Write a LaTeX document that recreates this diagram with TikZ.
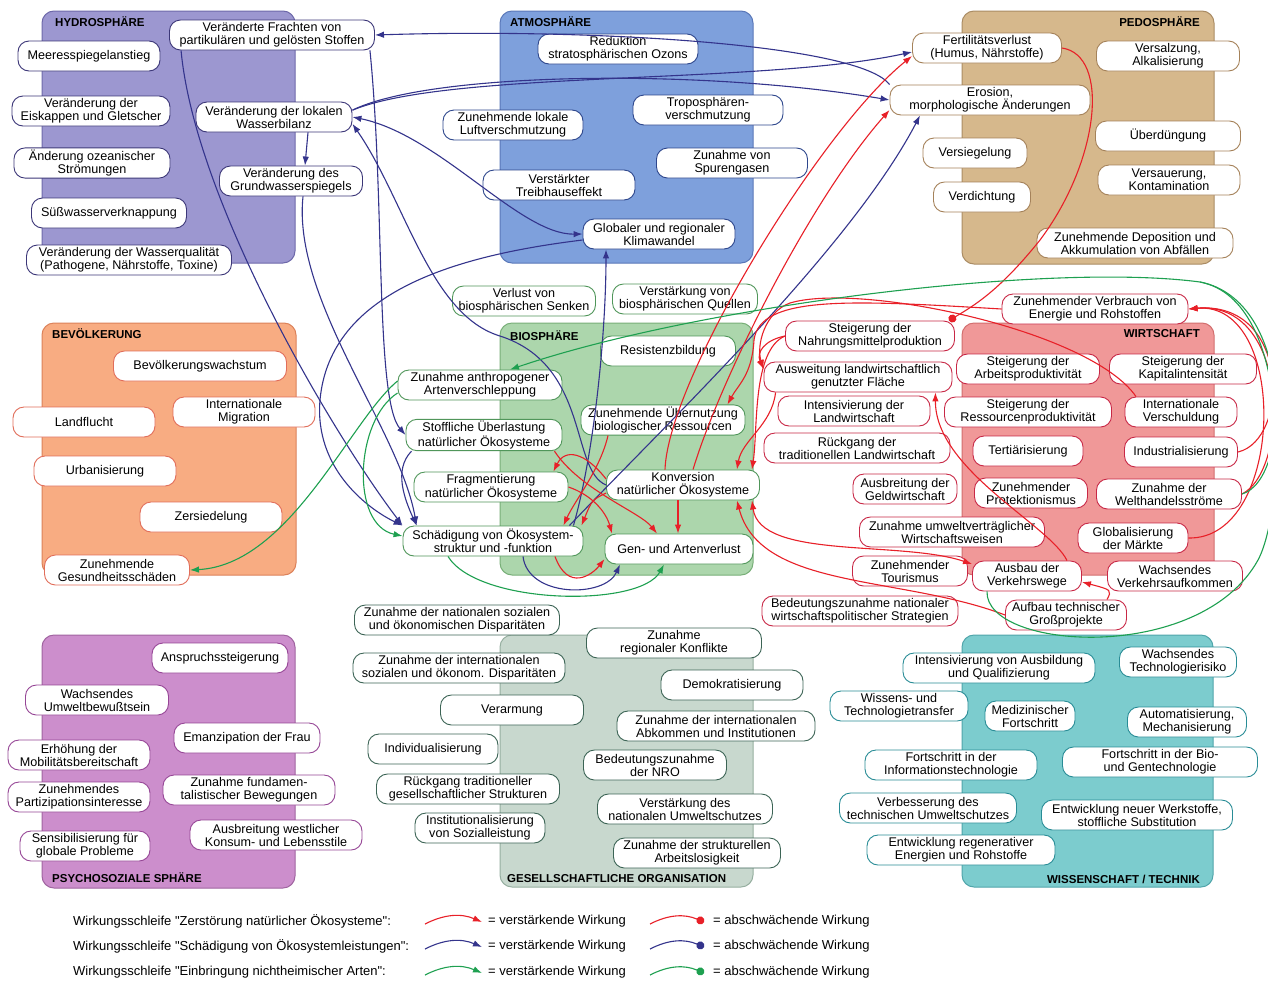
\documentclass[tikz,border=0pt]{standalone}
\usepackage{fontspec}
\setmainfont{Liberation Sans}
\usetikzlibrary{arrows.meta}
\definecolor{lnblue}{RGB}{52,52,140}
\definecolor{lnred}{RGB}{232,32,40}
\definecolor{lngreen}{RGB}{30,160,80}
\definecolor{hyF}{RGB}{156,151,208}\definecolor{hyD}{RGB}{110,105,170}\definecolor{hyB}{RGB}{60,55,120}
\definecolor{atF}{RGB}{126,160,220}\definecolor{atD}{RGB}{90,120,185}\definecolor{atB}{RGB}{45,70,140}
\definecolor{peF}{RGB}{214,184,140}\definecolor{peD}{RGB}{170,140,100}\definecolor{peB}{RGB}{165,130,90}
\definecolor{beF}{RGB}{248,172,130}\definecolor{beD}{RGB}{220,130,90}\definecolor{beB}{RGB}{225,110,90}
\definecolor{biF}{RGB}{172,214,172}\definecolor{biD}{RGB}{120,175,120}\definecolor{biB}{RGB}{80,150,90}
\definecolor{wiF}{RGB}{240,152,152}\definecolor{wiD}{RGB}{210,110,110}\definecolor{wiB}{RGB}{200,40,70}
\definecolor{psF}{RGB}{204,142,204}\definecolor{psD}{RGB}{160,100,160}\definecolor{psB}{RGB}{150,70,150}
\definecolor{geF}{RGB}{200,216,206}\definecolor{geD}{RGB}{150,175,160}\definecolor{geB}{RGB}{60,100,85}
\definecolor{wsF}{RGB}{124,204,206}\definecolor{wsD}{RGB}{80,165,170}\definecolor{wsB}{RGB}{40,140,150}

\begin{document}
\begin{tikzpicture}[x=1pt,y=-1pt,>={Latex[length=9pt,width=6.5pt]},
  nd/.style={draw, fill=white, rounded corners=11pt, line width=0.9pt, minimum height=30pt,
    inner xsep=3pt, inner ysep=2pt, align=center, font=\fontsize{12.6}{13}\selectfont},
  hynode/.style={nd, draw=hyB}, atnode/.style={nd, draw=atB}, penode/.style={nd, draw=peB},
  benode/.style={nd, draw=beB}, binode/.style={nd, draw=biB}, winode/.style={nd, draw=wiB},
  psnode/.style={nd, draw=psB}, genode/.style={nd, draw=geB}, wsnode/.style={nd, draw=wsB},
  sphere/.style={rounded corners=12pt, line width=1pt},
  sphtitle/.style={inner sep=0pt, font=\fontsize{11.5}{12}\selectfont\bfseries},
  lg/.style={inner sep=0pt, anchor=west, font=\fontsize{13}{14}\selectfont},
  bline/.style={draw=lnblue, line width=1.1pt, ->},
  rline/.style={draw=lnred, line width=1.1pt, ->},
  gline/.style={draw=lngreen, line width=1.1pt, ->}]
\useasboundingbox (0,0) rectangle (1268,983);
\fill[white] (0,0) rectangle (1268,983);

% spheres
\draw[sphere, fill=hyF, draw=hyD] (42,11) rectangle (295,263);
\draw[sphere, fill=atF, draw=atD] (500,11) rectangle (753,263);
\draw[sphere, fill=peF, draw=peD] (962,11) rectangle (1214,264);
\draw[sphere, fill=beF, draw=beD] (42,323) rectangle (296,575);
\draw[sphere, fill=biF, draw=biD] (500,323) rectangle (753,575);
\draw[sphere, fill=wiF, draw=wiD] (962,323) rectangle (1214,575);
\draw[sphere, fill=psF, draw=psD] (42,635) rectangle (295,888);
\draw[sphere, fill=geF, draw=geD] (500,635) rectangle (753,887);
\draw[sphere, fill=wsF, draw=wsD] (962,635) rectangle (1213,887);
\node[sphtitle, anchor=west] (tHy) at (55,22) {HYDROSPHÄRE};
\node[sphtitle, anchor=west] (tAt) at (510,22) {ATMOSPHÄRE};
\node[sphtitle, anchor=east] (tPe) at (1200,22) {PEDOSPHÄRE};
\node[sphtitle, anchor=west] (tBe) at (52,334) {BEVÖLKERUNG};
\node[sphtitle, anchor=west] (tBi) at (510,336) {BIOSPHÄRE};
\node[sphtitle, anchor=east] (tWi) at (1200,334) {WIRTSCHAFT};
\node[sphtitle, anchor=west] (tPs) at (52,878) {PSYCHOSOZIALE SPHÄRE};
\node[sphtitle, anchor=west] (tGe) at (507,879) {GESELLSCHAFTLICHE ORGANISATION};
\node[sphtitle, anchor=east] (tWs) at (1200,879) {WISSENSCHAFT / TECHNIK};

% hydrosphaere
\node[hynode, minimum width=142] (h1) at (89,56) {Meeresspiegelanstieg};
\node[hynode, minimum width=158] (h2) at (91,111) {Veränderung der\\Eiskappen und Gletscher};
\node[hynode, minimum width=156] (h3) at (92,163) {Änderung ozeanischer\\Strömungen};
\node[hynode, minimum width=155] (h4) at (109,213) {Süßwasserverknappung};
\node[hynode, minimum width=205] (h5) at (129,260) {Veränderung der Wasserqualität\\(Pathogene, Nährstoffe, Toxine)};
\node[hynode, minimum width=205] (h6) at (272,35) {Veränderte Frachten von\\partikulären und gelösten Stoffen};
\node[hynode, minimum width=156] (h7) at (274,117) {Veränderung der lokalen\\Wasserbilanz};
\node[hynode, minimum width=143] (h8) at (291,181) {Veränderung des\\Grundwasserspiegels};

% atmosphaere
\node[atnode, minimum width=160] (a1) at (618,49) {Reduktion\\stratosphärischen Ozons};
\node[atnode, minimum width=150] (a2) at (708,110) {Troposphären-\\verschmutzung};
\node[atnode, minimum width=140] (a3) at (513,125) {Zunehmende lokale\\Luftverschmutzung};
\node[atnode, minimum width=151] (a4) at (732,163) {Zunahme von\\Spurengasen};
\node[atnode, minimum width=152] (a5) at (559,185) {Verstärkter\\Treibhauseffekt};
\node[atnode, minimum width=152] (a6) at (659,234) {Globaler und regionaler\\Klimawandel};

% pedosphaere
\node[penode, minimum width=149] (p1) at (987,48) {Fertilitätsverlust\\(Humus, Nährstoffe)};
\node[penode, minimum width=200] (p2) at (990,100) {Erosion,\\morphologische Änderungen};
\node[penode, minimum width=143] (p3) at (1168,56) {Versalzung,\\Alkalisierung};
\node[penode, minimum width=145] (p4) at (1168,136) {Überdüngung};
\node[penode, minimum width=104] (p5) at (975,153) {Versiegelung};
\node[penode, minimum width=97] (p6) at (982,197) {Verdichtung};
\node[penode, minimum width=142] (p7) at (1169,180) {Versauerung,\\Kontamination};
\node[penode, minimum width=196] (p8) at (1135,243) {Zunehmende Deposition und\\Akkumulation von Abfällen};

% bevoelkerung
\node[benode, minimum width=173] (b1) at (200,366) {Bevölkerungswachstum};
\node[benode, minimum width=142] (b2) at (244,412) {Internationale\\Migration};
\node[benode, minimum width=142] (b3) at (84,422) {Landflucht};
\node[benode, minimum width=142] (b4) at (105,471) {Urbanisierung};
\node[benode, minimum width=142] (b5) at (211,517) {Zersiedelung};
\node[benode, minimum width=145] (b6) at (117,570) {Zunehmende\\Gesundheitsschäden};

% biosphaere
\node[binode, minimum width=143] (s1) at (524,301) {Verlust von\\biosphärischen Senken};
\node[binode, minimum width=145] (s2) at (685,299) {Verstärkung von\\biosphärischen Quellen};
\node[binode, minimum width=135] (s3) at (668,351) {Resistenzbildung};
\node[binode, minimum width=164] (s4) at (480,385) {Zunahme anthropogener\\Artenverschleppung};
\node[binode, minimum width=164] (s5) at (663,420) {Zunehmende Übernutzung\\biologischer Ressourcen};
\node[binode, minimum width=156] (s6) at (484,435) {Stoffliche Überlastung\\natürlicher Ökosysteme};
\node[binode, minimum width=154] (s7) at (491,487) {Fragmentierung\\natürlicher Ökosysteme};
\node[binode, minimum width=153] (s8) at (683,485) {Konversion\\natürlicher Ökosysteme};
\node[binode, minimum width=180] (s9) at (493,541) {Schädigung von Ökosystem-\\struktur und -funktion};
\node[binode, minimum width=148] (s10) at (679,549) {Gen- und Artenverlust};

% wirtschaft
\node[winode, minimum width=186] (w1) at (1095,309) {Zunehmender Verbrauch von\\Energie und Rohstoffen};
\node[winode, minimum width=169] (w2) at (870,336) {Steigerung der\\Nahrungsmittelproduktion};
\node[winode, minimum width=188] (w3) at (858,377) {Ausweitung landwirtschaftlich\\genutzter Fläche};
\node[winode, minimum width=152] (w4) at (854,411) {Intensivierung der\\Landwirtschaft};
\node[winode, minimum width=186] (w5) at (857,448) {Rückgang der\\traditionellen Landwirtschaft};
\node[winode, minimum width=104] (w6) at (905,489) {Ausbreitung der\\Geldwirtschaft};
\node[winode, minimum width=185] (w7) at (952,532) {Zunahme umweltverträglicher\\Wirtschaftsweisen};
\node[winode, minimum width=115] (w8) at (910,571) {Zunehmender\\Tourismus};
\node[winode, minimum width=143] (w9) at (1028,369) {Steigerung der\\Arbeitsproduktivität};
\node[winode, minimum width=147] (w10) at (1183,369) {Steigerung der\\Kapitalintensität};
\node[winode, minimum width=167] (w11) at (1028,412) {Steigerung der\\Ressourcenproduktivität};
\node[winode, minimum width=112] (w12) at (1181,412) {Internationale\\Verschuldung};
\node[winode, minimum width=110] (w13) at (1028,451) {Tertiärisierung};
\node[winode, minimum width=113] (w14) at (1181,452) {Industrialisierung};
\node[winode, minimum width=113] (w15) at (1031,493) {Zunehmender\\Protektionismus};
\node[winode, minimum width=145] (w16) at (1169,494) {Zunahme der\\Welthandelsströme};
\node[winode, minimum width=110] (w17) at (1133,538) {Globalisierung\\der Märkte};
\node[winode, minimum width=109] (w18) at (1027,576) {Ausbau der\\Verkehrswege};
\node[winode, minimum width=135] (w19) at (1175,576) {Wachsendes\\Verkehrsaufkommen};
\node[winode, minimum width=196] (w20) at (860,611) {Bedeutungszunahme nationaler\\wirtschaftspolitischer Strategien};
\node[winode, minimum width=121] (w21) at (1066,615) {Aufbau technischer\\Großprojekte};

% gesellschaftliche organisation
\node[genode, minimum width=205] (g1) at (457,620) {Zunahme der nationalen sozialen\\und ökonomischen Disparitäten};
\node[genode, minimum width=175] (g2) at (674,643) {Zunahme\\regionaler Konflikte};
\node[genode, minimum width=212] (g3) at (459,668) {Zunahme der internationalen\\sozialen und ökonom. Disparitäten};
\node[genode, minimum width=142] (g4) at (732,685) {Demokratisierung};
\node[genode, minimum width=143] (g5) at (512,710) {Verarmung};
\node[genode, minimum width=198] (g6) at (716,726) {Zunahme der internationalen\\Abkommen und Institutionen};
\node[genode, minimum width=130] (g7) at (433,749) {Individualisierung};
\node[genode, minimum width=143] (g8) at (655,765) {Bedeutungszunahme\\der NRO};
\node[genode, minimum width=183] (g9) at (468,789) {Rückgang traditioneller\\gesellschaftlicher Strukturen};
\node[genode, minimum width=130] (g10) at (480,828) {Institutionalisierung\\von Sozialleistung};
\node[genode, minimum width=175] (g11) at (685,809) {Verstärkung des\\nationalen Umweltschutzes};
\node[genode, minimum width=167] (g12) at (697,853) {Zunahme der strukturellen\\Arbeitslosigkeit};

% psychosoziale sphaere
\node[psnode, minimum width=136] (y1) at (220,658) {Anspruchssteigerung};
\node[psnode, minimum width=143] (y2) at (97,700) {Wachsendes\\Umweltbewußtsein};
\node[psnode, minimum width=146] (y3) at (247,738) {Emanzipation der Frau};
\node[psnode, minimum width=142] (y4) at (79,755) {Erhöhung der\\Mobilitätsbereitschaft};
\node[psnode, minimum width=142] (y5) at (79,797) {Zunehmendes\\Partizipationsinteresse};
\node[psnode, minimum width=172] (y6) at (249,790) {Zunahme fundamen-\\talistischer Bewegungen};
\node[psnode, minimum width=172] (y7) at (276,835) {Ausbreitung westlicher\\Konsum- und Lebensstile};
\node[psnode, minimum width=130] (y8) at (85,846) {Sensibilisierung für\\globale Probleme};

% wissenschaft / technik
\node[wsnode, minimum width=192] (t1) at (999,668) {Intensivierung von Ausbildung\\und Qualifizierung};
\node[wsnode, minimum width=117] (t2) at (1178,662) {Wachsendes\\Technologierisiko};
\node[wsnode, minimum width=138] (t3) at (899,706) {Wissens- und\\Technologietransfer};
\node[wsnode, minimum width=90] (t4) at (1030,716) {Medizinischer\\Fortschritt};
\node[wsnode, minimum width=119] (t5) at (1187,722) {Automatisierung,\\Mechanisierung};
\node[wsnode, minimum width=172] (t6) at (951,765) {Fortschritt in der\\Informationstechnologie};
\node[wsnode, minimum width=195] (t7) at (1160,762) {Fortschritt in der Bio-\\und Gentechnologie};
\node[wsnode, minimum width=177] (t8) at (928,808) {Verbesserung des\\technischen Umweltschutzes};
\node[wsnode, minimum width=191] (t9) at (1137,815) {Entwicklung neuer Werkstoffe,\\stoffliche Substitution};
\node[wsnode, minimum width=188] (t10) at (961,850) {Entwicklung regenerativer\\Energien und Rohstoffe};

% blue loop
\draw[bline] (p2.north west) .. controls (860,45) and (600,28) .. (h6.east);
\draw[bline] (h7.5) .. controls (430,72) and (700,68) .. (p2.west);
\draw[bline] (h7.5) .. controls (450,70) and (760,85) .. ([yshift=-4]p1.west);
\draw[bline, <->] (h7.east) .. controls (440,135) and (520,235) .. (a6.west);
\draw[bline] (s8.west) .. controls (570,470) and (590,365) .. (500,336) .. controls (430,315) and (405,200) .. (h7.-5);
\draw[bline] ([xshift=34]h7.south) -- ([xshift=14]h8.north);
\draw[bline] ([xshift=-5]h6.south east) .. controls (385,200) and (375,400) .. (s6.west);
\draw[bline] ([xshift=12]h6.south west) .. controls (195,200) and (330,430) .. (s9.north west);
\draw[bline] ([xshift=12]h8.south) .. controls (292,300) and (400,430) .. ([xshift=14]s9.north west);
\draw[bline] ([yshift=-6]a6.west) .. controls (460,255) and (330,290) .. (320,400) .. controls (314,470) and (370,510) .. (s9.north west);
\draw[bline] ([xshift=6]s6.south west) .. controls (393,470) and (405,500) .. ([xshift=14]s9.north west);
\draw[bline] ([xshift=-10]s9.north east) .. controls (595,450) and (606,330) .. ([xshift=-53]a6.south);
\draw[bline] ([xshift=-14]s9.north east) .. controls (660,430) and (850,250) .. ([xshift=-70]p2.south);
\draw[bline] ([xshift=30]s9.south) .. controls (528,598) and (605,598) .. ([xshift=-59]s10.south);

% red loop
\draw[rline] ([xshift=-18]s8.north) .. controls (668,380) and (820,130) .. ([yshift=-8]p1.west);
\draw[rline] ([xshift=10]s8.north) .. controls (720,380) and (810,200) .. ([yshift=-10]p2.west);
\draw[rline] (w1.west) .. controls (850,300) and (760,295) .. (754,340) .. controls (752,375) and (738,385) .. ([xshift=-18]s5.north east);
\draw[rline] ([xshift=-45]w12.north) .. controls (1090,330) and (860,282) .. (790,303) .. controls (765,312) and (756,345) .. ([yshift=8]w3.west);
\draw[rline] (w2.west) .. controls (765,340) and (756,352) .. ([yshift=8]w3.west);
\draw[rline] (w2.west) .. controls (752,350) and (758,430) .. ([xshift=-8]s8.north east);
\draw[rline] ([xshift=12]w3.south west) .. controls (772,425) and (742,440) .. ([xshift=-23]s8.north east);
\draw[rline, -{Circle[length=8pt]}] (p1.east) .. controls (1110,55) and (1100,160) .. (1040,240) .. controls (1000,290) and (975,305) .. ([xshift=-6]w2.north east);
\draw[rline] ([xshift=40]w18.north) .. controls (1050,525) and (935,470) .. ([xshift=-17]w3.south east);
\draw[rline] ([xshift=-20]w21.north east) .. controls (1112,590) .. ([yshift=-6]w18.east);
\draw[rline, <->] ([xshift=-8]s8.south east) .. controls (760,560) and (900,540) .. ([yshift=12]w18.west);
\draw[rline] (w21.west) .. controls (900,575) and (760,590) .. ([xshift=-23]s8.south east);
\draw[rline] (w14.east) .. controls (1290,440) and (1290,300) .. (w1.east);
\draw[rline] (w16.east) .. controls (1290,470) and (1290,300) .. (w1.east);
\draw[rline] (w17.east) .. controls (1285,540) and (1290,300) .. (w1.east);
\draw[rline] ([xshift=-55]s5.south) .. controls (600,470) and (575,500) .. ([xshift=-20]s9.north east);
\draw[rline] ([yshift=6]s8.west) .. controls (585,452) and (565,448) .. ([xshift=-15]s7.north east);
\draw[rline] (s7.east) .. controls (592,495) and (606,512) .. ([xshift=-67]s10.north);
\draw[rline] ([xshift=-8]s6.south east) .. controls (580,490) and (640,512) .. ([xshift=-22]s10.north);
\draw[rline] ([xshift=-5]s8.south) -- ([xshift=-1]s10.north);
\draw[rline] ([yshift=-8]s8.west) .. controls (592,500) .. ([xshift=-2]s9.north east);
\draw[rline] ([xshift=62]s9.south) .. controls (568,592) and (592,575) .. ([yshift=-10]s10.west);

% green loop
\coordinate (gTop) at (1200,282);
\draw[gline] (w16.east) .. controls (1292,480) and (1294,300) .. (gTop) .. controls (1050,262) and (700,305) .. ([xshift=30]s4.north);
\draw[gline, -] ([xshift=-40]w18.south) .. controls (985,650) and (1200,665) .. (1258,560) .. controls (1285,510) and (1294,300) .. (gTop);
\draw[gline] ([yshift=4]s4.west) .. controls (350,420) and (290,565) .. (b6.east);
\draw[gline] ([yshift=-8]s4.west) .. controls (355,420) and (350,525) .. ([yshift=5]s9.west);
\draw[gline] ([xshift=-45]s9.south) .. controls (478,605) and (640,608) .. ([xshift=-15]s10.south);

% legend
\node[lg] (l1) at (73,921) {Wirkungsschleife \textquotedbl Zerstörung natürlicher Ökosysteme\textquotedbl:};
\node[lg] (l2) at (73,946) {Wirkungsschleife \textquotedbl Schädigung von Ökosystemleistungen\textquotedbl:};
\node[lg] (l3) at (73,972) {Wirkungsschleife \textquotedbl Einbringung nichtheimischer Arten\textquotedbl:};
\coordinate (l1a) at (425,924); \coordinate (l1b) at (482,922);
\coordinate (l2a) at (425,949); \coordinate (l2b) at (482,947);
\coordinate (l3a) at (425,975); \coordinate (l3b) at (482,973);
\coordinate (l1c) at (650,924); \coordinate (l1d) at (704,922);
\coordinate (l2c) at (650,949); \coordinate (l2d) at (704,947);
\coordinate (l3c) at (650,975); \coordinate (l3d) at (704,973);
\draw[rline] (l1a) to[bend left=25] (l1b);
\draw[bline] (l2a) to[bend left=25] (l2b);
\draw[gline] (l3a) to[bend left=25] (l3b);
\draw[rline, -{Circle[length=8pt]}] (l1c) to[bend left=25] (l1d);
\draw[bline, -{Circle[length=8pt]}] (l2c) to[bend left=25] (l2d);
\draw[gline, -{Circle[length=8pt]}] (l3c) to[bend left=25] (l3d);
\node[lg] (v1) at (488,921) {= verstärkende Wirkung};
\node[lg] (v2) at (488,946) {= verstärkende Wirkung};
\node[lg] (v3) at (488,972) {= verstärkende Wirkung};
\node[lg] (d1) at (713,921) {= abschwächende Wirkung};
\node[lg] (d2) at (713,946) {= abschwächende Wirkung};
\node[lg] (d3) at (713,972) {= abschwächende Wirkung};
\end{tikzpicture}
\end{document}
